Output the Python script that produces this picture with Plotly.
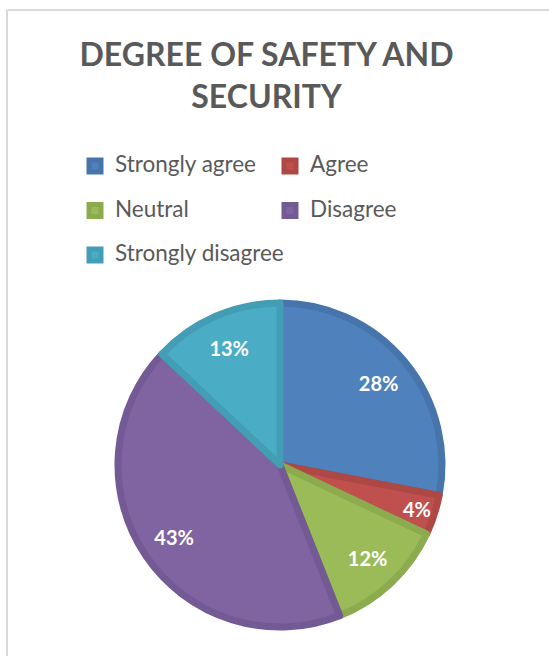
import plotly.graph_objects as go

categories = ["Strongly agree", "Agree", "Neutral", "Disagree", "Strongly disagree"]
values = [28, 4, 12, 43, 13]
fill_colors = ["#4F81BD", "#C0504D", "#9BBB59", "#8064A2", "#4BACC6"]
edge_colors = ["#4674AB", "#AE4845", "#8CAB4E", "#745A94", "#429DB5"]
title_text = "DEGREE OF SAFETY AND<br>SECURITY"

W, H = 549, 656
legend_labels = [f'<span style="font-size:22.5px">{c}</span><br> ' for c in categories]
pie_domain = dict(x=[118 / W, 442 / W], y=[1 - 627 / H, 1 - 303 / H])

# full pie (slices + legend)
base = go.Pie(
    labels=legend_labels,
    values=values,
    sort=False,
    direction="clockwise",
    rotation=0,
    marker=dict(colors=fill_colors, line=dict(color=edge_colors, width=7)),
    textinfo="none",
    domain=pie_domain,
    hoverinfo="label+percent",
    showlegend=True,
)
# transparent ring with the same slices, only used to place the percentage labels
ring = go.Pie(
    labels=legend_labels,
    values=values,
    sort=False,
    direction="clockwise",
    rotation=0,
    hole=0.58,
    marker=dict(colors=["rgba(0,0,0,0)"] * len(values), line=dict(width=0)),
    textinfo="percent",
    textposition="inside",
    insidetextorientation="horizontal",
    insidetextfont=dict(family="Lato", size=20, color="white", weight=700),
    domain=pie_domain,
    hoverinfo="skip",
    showlegend=False,
)

fig = go.Figure([base, ring])

fig.update_layout(
    width=W,
    height=H,
    margin=dict(l=0, r=0, t=0, b=0),
    paper_bgcolor="white",
    plot_bgcolor="white",
    font=dict(family="Lato", color="#595959"),
    uniformtext=dict(minsize=20, mode="show"),
    title=dict(
        text=title_text,
        x=266.5 / W,
        xanchor="center",
        y=1 - 66 / H,
        yanchor="top",
        font=dict(family="Lato", size=32, color="#595959", weight=700),
    ),
    legend=dict(
        orientation="h",
        x=75 / W,
        xanchor="left",
        y=1 - 149 / H,
        yanchor="top",
        font=dict(family="Lato", size=16, color="#595959"),
        valign="top",
        entrywidth=150,
        entrywidthmode="pixels",
        itemwidth=30,
        traceorder="normal",
    ),
    shapes=[
        dict(type="line", xref="paper", yref="paper", x0=7 / W, x1=1.02, y0=1 - 10 / H, y1=1 - 10 / H,
             line=dict(color="#D9D9D9", width=2)),
        dict(type="line", xref="paper", yref="paper", x0=7 / W, x1=7 / W, y0=-0.02, y1=1 - 10 / H,
             line=dict(color="#D9D9D9", width=2)),
    ],
)

fig.write_html(
    "out.html",
    config={"displayModeBar": False},
    post_script="document.body.style.margin='0';",
)
